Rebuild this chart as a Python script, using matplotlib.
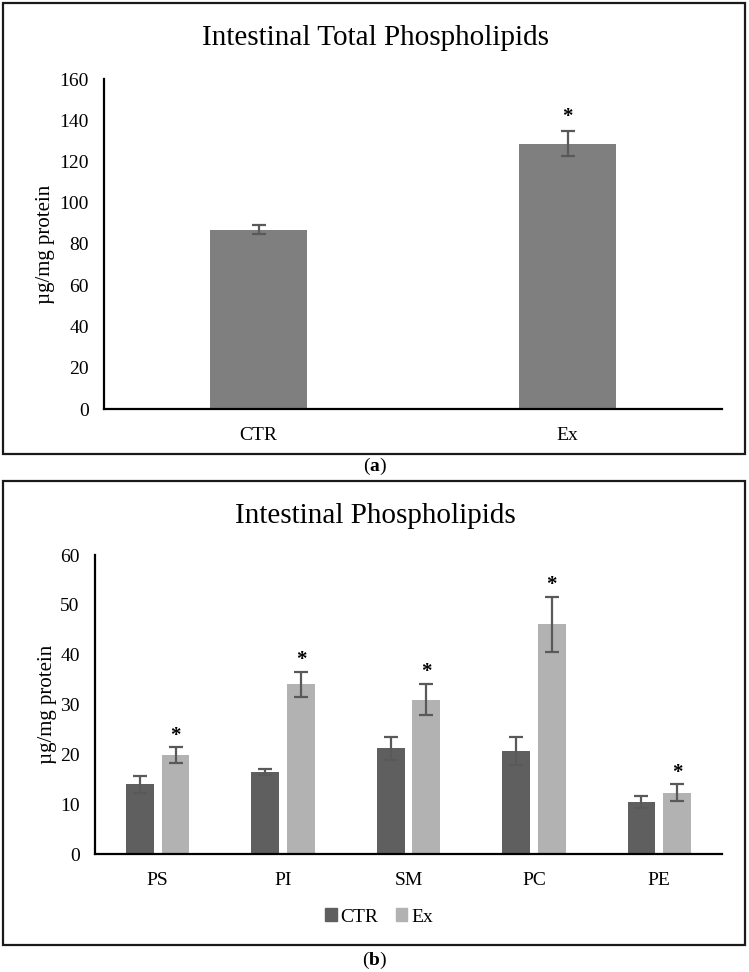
import matplotlib
matplotlib.use("Agg")
import matplotlib.pyplot as plt
import matplotlib.patches as mpatches
import numpy as np

plt.rcParams['font.family'] = ['Liberation Serif', 'DejaVu Serif']
plt.rcParams['mathtext.fontset'] = 'custom'
plt.rcParams['mathtext.rm'] = 'Liberation Serif'
plt.rcParams['mathtext.bf'] = 'Liberation Serif:bold'

# ---- data ----
groups_a = ["CTR", "Ex"]
values_a = [87.0, 128.6]
errors_a = [2.2, 6.1]
sig_a = [False, True]

categories_b = ["PS", "PI", "SM", "PC", "PE"]
ctr_b = [14.0, 16.5, 21.2, 20.6, 10.4]
ctr_err_b = [1.7, 0.6, 2.3, 2.8, 1.15]
ex_b = [19.8, 34.1, 31.0, 46.1, 12.3]
ex_err_b = [1.6, 2.5, 3.2, 5.5, 1.7]
sig_b = [True, True, True, True, True]

W, H = 749, 972
fig = plt.figure(figsize=(W / 100, H / 100), dpi=100)

def fx(px):
    return px / W

def fy(py):
    return 1 - py / H

def axes_px(l, r, top, bottom):
    return fig.add_axes([fx(l), fy(bottom), fx(r) - fx(l), fy(top) - fy(bottom)])

# frames
for (t, b) in [(3, 454), (481, 945)]:
    rect = mpatches.Rectangle((fx(3.5), fy(b)), fx(745) - fx(3.5), fy(t) - fy(b),
                              transform=fig.transFigure, fill=False,
                              edgecolor='#1a1a1a', linewidth=1.6)
    fig.add_artist(rect)

err_color = '#595959'

def style_axes(ax):
    for s in ['top', 'right']:
        ax.spines[s].set_visible(False)
    ax.spines['left'].set_linewidth(1.6)
    ax.spines['bottom'].set_linewidth(1.6)
    ax.spines['left'].set_color('black')
    ax.spines['bottom'].set_color('black')
    ax.tick_params(axis='both', length=0, labelsize=14)
    ax.tick_params(axis='y', pad=11)
    ax.tick_params(axis='x', pad=13)

# ---- panel a ----
axa = axes_px(104, 722, 79, 409)
xa = np.arange(len(groups_a))
axa.bar(xa, values_a, width=0.314, color='#7f7f7f', zorder=2)
axa.errorbar(xa, values_a, yerr=errors_a, fmt='none', ecolor=err_color,
             elinewidth=1.6, capsize=5, capthick=1.6, zorder=3)
for i, s in enumerate(sig_a):
    if s:
        axa.annotate('*', (xa[i], values_a[i] + errors_a[i]), xytext=(0, 3),
                     textcoords='offset points', ha='center', va='bottom',
                     fontsize=15, fontweight='bold')
axa.set_xlim(-0.5, len(groups_a) - 0.5)
axa.set_ylim(0, 160)
axa.set_yticks(np.arange(0, 161, 20))
axa.set_xticks(xa)
axa.set_xticklabels(groups_a)
axa.set_ylabel('µg/mg protein', fontsize=15, labelpad=3)
style_axes(axa)
fig.text(fx(375), fy(38), 'Intestinal Total Phospholipids', ha='center', va='center',
         fontsize=21)
fig.text(fx(375), fy(466), r'($\mathbf{a}$)', ha='center', va='center', fontsize=14)

# ---- panel b ----
axb = axes_px(95, 722, 555, 854)
xb = np.arange(len(categories_b))
bw = 0.223
off = 0.142
axb.bar(xb - off, ctr_b, width=bw, color='#5f5f5f', label='CTR', zorder=2)
axb.bar(xb + off, ex_b, width=bw, color='#b2b2b2', label='Ex', zorder=2)
axb.errorbar(xb - off, ctr_b, yerr=ctr_err_b, fmt='none', ecolor=err_color,
             elinewidth=1.6, capsize=5, capthick=1.6, zorder=3)
axb.errorbar(xb + off, ex_b, yerr=ex_err_b, fmt='none', ecolor=err_color,
             elinewidth=1.6, capsize=5, capthick=1.6, zorder=3)
for i, s in enumerate(sig_b):
    if s:
        axb.annotate('*', (xb[i] + off, ex_b[i] + ex_err_b[i]), xytext=(0, 1),
                     textcoords='offset points', ha='center', va='bottom',
                     fontsize=15, fontweight='bold')
axb.set_xlim(-0.5, len(categories_b) - 0.5)
axb.set_ylim(0, 60)
axb.set_yticks(np.arange(0, 61, 10))
axb.set_xticks(xb)
axb.set_xticklabels(categories_b)
axb.set_ylabel('µg/mg protein', fontsize=15, labelpad=2)
style_axes(axb)
fig.text(fx(375), fy(516), 'Intestinal Phospholipids', ha='center', va='center',
         fontsize=21)
leg = fig.legend(handles=[mpatches.Patch(color='#5f5f5f', label='CTR'),
                          mpatches.Patch(color='#b2b2b2', label='Ex')],
                 loc='center', bbox_to_anchor=(fx(379), fy(917)), ncol=2,
                 frameon=False, fontsize=14, handlelength=0.6, handleheight=0.6,
                 handletextpad=0.2, columnspacing=0.9)
fig.text(fx(375), fy(960), r'($\mathbf{b}$)', ha='center', va='center', fontsize=14)

fig.savefig('out.png', dpi=100)
